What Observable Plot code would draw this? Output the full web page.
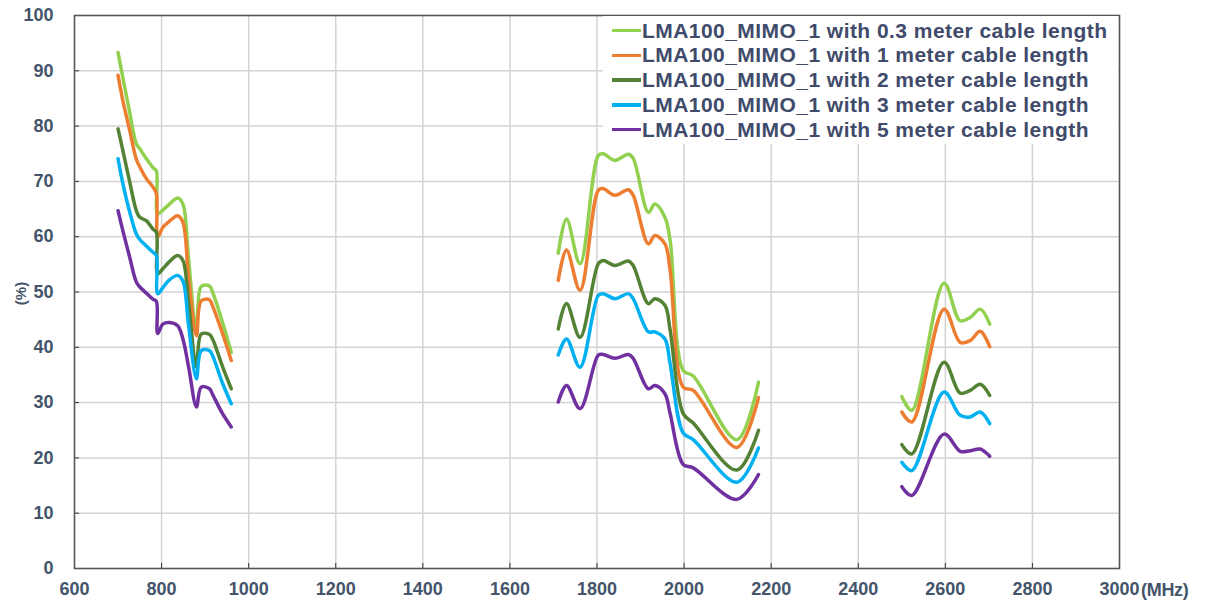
<!DOCTYPE html>
<html><head><meta charset="utf-8">
<script src="https://cdn.jsdelivr.net/npm/d3@7"></script>
<script src="https://cdn.jsdelivr.net/npm/@observablehq/plot@0.6"></script>
<style>
body{margin:0;background:#fff;}
#wrap{position:relative;width:1205px;height:605px;font-family:"Liberation Sans",Arial,sans-serif;}
#legend{position:absolute;left:603px;top:16px;width:515px;height:128px;background:#fff;}
.item{position:absolute;left:9px;height:25px;display:flex;align-items:center;font-weight:bold;font-size:21px;letter-spacing:0.45px;color:#404a6a;white-space:nowrap;}
.sw{width:29px;height:3.5px;margin-right:1px;}
#ylab{position:absolute;left:9px;top:285px;transform:rotate(-90deg);font-weight:bold;font-size:15px;color:#44546a;}
#xlab{position:absolute;left:1141px;top:580px;font-size:18px;font-weight:bold;color:#44546a;letter-spacing:-0.3px;}
</style></head>
<body><div id="wrap"></div>
<script>
const seriesNames = [
  "LMA100_MIMO_1 with 0.3 meter cable length",
  "LMA100_MIMO_1 with 1 meter cable length",
  "LMA100_MIMO_1 with 2 meter cable length",
  "LMA100_MIMO_1 with 3 meter cable length",
  "LMA100_MIMO_1 with 5 meter cable length"
];
const seriesColors = ["#92d050", "#ed7d31", "#548235", "#00b0f0", "#7030a0"];

const xTicks = [600, 800, 1000, 1200, 1400, 1600, 1800, 2000, 2200, 2400, 2600, 2800, 3000];
const yTicks = [0, 10, 20, 30, 40, 50, 60, 70, 80, 90, 100];

// Band 1 (MHz)
const band1Freq = [700, 711, 726, 742, 750, 765, 780, 788, 791, 803, 818, 837, 849, 862, 880, 891, 910, 917, 940, 960];
const band1_03m = [93.3, 88.8, 82.8, 76.8, 75.9, 74.1, 72.5, 71.9, 64.2, 64.8, 65.9, 67.0, 65.9, 56.0, 42.5, 51.0, 51.1, 50.0, 44.5, 39.1];
const band1_1m  = [89.2, 84.6, 79.5, 74.0, 72.6, 70.5, 69.0, 67.8, 59.9, 61.7, 62.8, 63.8, 62.6, 52.5, 42.1, 48.4, 48.6, 47.5, 42.5, 37.6];
const band1_2m  = [79.5, 75.6, 70.2, 64.7, 63.5, 62.9, 61.4, 60.8, 53.3, 54.2, 55.5, 56.6, 55.7, 48.0, 36.4, 42.4, 42.3, 41.5, 36.5, 32.5];
const band1_3m  = [74.1, 69.6, 64.7, 60.5, 59.5, 58.3, 57.2, 56.6, 49.7, 50.8, 52.2, 53.0, 52.0, 44.0, 34.3, 39.4, 39.4, 38.5, 33.5, 29.8];
const band1_5m  = [64.7, 61.1, 56.5, 51.8, 50.9, 49.8, 48.7, 48.3, 42.5, 44.2, 44.5, 43.9, 41.5, 36.5, 29.2, 32.8, 32.5, 31.5, 28.0, 25.6];

// Band 2 (MHz)
const band2Freq = [1711, 1730, 1761, 1803, 1814, 1841, 1872, 1883, 1918, 1933, 1956, 1968, 1998, 2021, 2121, 2171];
const band2_03m = [57.0, 63.2, 55.1, 74.7, 75.0, 73.8, 74.9, 74.2, 64.4, 65.9, 63.5, 59.3, 35.8, 34.8, 23.3, 33.7];
const band2_1m  = [52.1, 57.6, 50.3, 68.4, 68.7, 67.5, 68.5, 67.5, 58.7, 60.2, 58.7, 53.9, 32.8, 32.2, 21.9, 30.9];
const band2_2m  = [43.3, 47.9, 41.8, 55.1, 55.7, 54.8, 55.6, 54.8, 47.9, 48.8, 47.6, 43.1, 28.0, 26.3, 17.8, 25.0];
const band2_3m  = [38.6, 41.5, 36.4, 49.4, 49.7, 48.8, 49.7, 48.8, 42.8, 42.8, 41.5, 37.0, 24.5, 23.3, 15.6, 21.8];
const band2_5m  = [30.1, 33.1, 28.9, 38.6, 38.7, 38.0, 38.7, 38.0, 32.5, 33.1, 31.6, 28.0, 18.8, 18.2, 12.5, 17.0];

// Band 3 (MHz)
const band3Freq = [2500, 2523, 2597, 2634, 2657, 2680, 2702];
const band3_03m = [31.1, 28.6, 51.6, 44.8, 45.4, 46.9, 44.2];
const band3_1m  = [28.3, 26.5, 46.9, 40.9, 41.2, 42.9, 40.1];
const band3_2m  = [22.4, 20.7, 37.3, 31.7, 32.2, 33.3, 31.3];
const band3_3m  = [19.2, 17.7, 31.9, 27.7, 27.4, 28.3, 26.2];
const band3_5m  = [14.8, 13.2, 24.3, 21.2, 21.3, 21.6, 20.3];

const bands = [
  {freq: band1Freq, values: [band1_03m, band1_1m, band1_2m, band1_3m, band1_5m]},
  {freq: band2Freq, values: [band2_03m, band2_1m, band2_2m, band2_3m, band2_5m]},
  {freq: band3Freq, values: [band3_03m, band3_1m, band3_2m, band3_3m, band3_5m]}
];

const rows = [];
bands.forEach((b, bi) => {
  seriesNames.forEach((s, si) => {
    b.freq.forEach((f, i) => rows.push({series: s, band: bi, freq: f, value: b.values[si][i]}));
  });
});

const chart = Plot.plot({
  width: 1205,
  height: 605,
  marginLeft: 74,
  marginRight: 86,
  marginTop: 15,
  marginBottom: 37,
  style: {fontFamily: "'Liberation Sans', Arial, sans-serif", color: "#44546a", background: "#fff"},
  x: {domain: [600, 3000], label: null},
  y: {domain: [0, 100], label: null},
  color: {domain: seriesNames, range: seriesColors},
  marks: [
    Plot.gridX(xTicks, {stroke: "#d3d3d3", strokeOpacity: 1, strokeWidth: 1.5}),
    Plot.gridY(yTicks, {stroke: "#d3d3d3", strokeOpacity: 1, strokeWidth: 1.5}),
    Plot.axisX(xTicks, {tickSize: 0, tickPadding: 14, tickFormat: d => String(d), fontSize: 18, fontWeight: "bold", label: null}),
    Plot.axisX(xTicks, {tickSize: 5, dy: -5, tickFormat: () => "", stroke: "#333", label: null}),
    Plot.axisY(yTicks, {tickSize: 0, tickPadding: 21, fontSize: 18, fontWeight: "bold", label: null}),
    Plot.axisY(yTicks, {tickSize: 5, dx: 5, tickFormat: () => "", stroke: "#333", label: null}),
    Plot.lineY(rows, {x: "freq", y: "value", z: d => d.series + "|" + d.band, stroke: "series", curve: "catmull-rom", strokeWidth: 3.5, strokeLinejoin: "round", strokeLinecap: "round"}),
    Plot.frame({stroke: "#555", strokeWidth: 1.5})
  ]
});

const wrap = document.getElementById("wrap");
wrap.appendChild(chart);

const legend = document.createElement("div");
legend.id = "legend";
seriesNames.forEach((s, i) => {
  const it = document.createElement("div");
  it.className = "item";
  it.style.top = (2 + i * 24.8) + "px";
  const sw = document.createElement("span");
  sw.className = "sw";
  sw.style.background = seriesColors[i];
  it.appendChild(sw);
  const t = document.createElement("span");
  t.textContent = s;
  it.appendChild(t);
  legend.appendChild(it);
});
wrap.appendChild(legend);

const ylab = document.createElement("div");
ylab.id = "ylab"; ylab.textContent = "(%)";
wrap.appendChild(ylab);
const xlab = document.createElement("div");
xlab.id = "xlab"; xlab.textContent = "(MHz)";
wrap.appendChild(xlab);
</script>
</body></html>
